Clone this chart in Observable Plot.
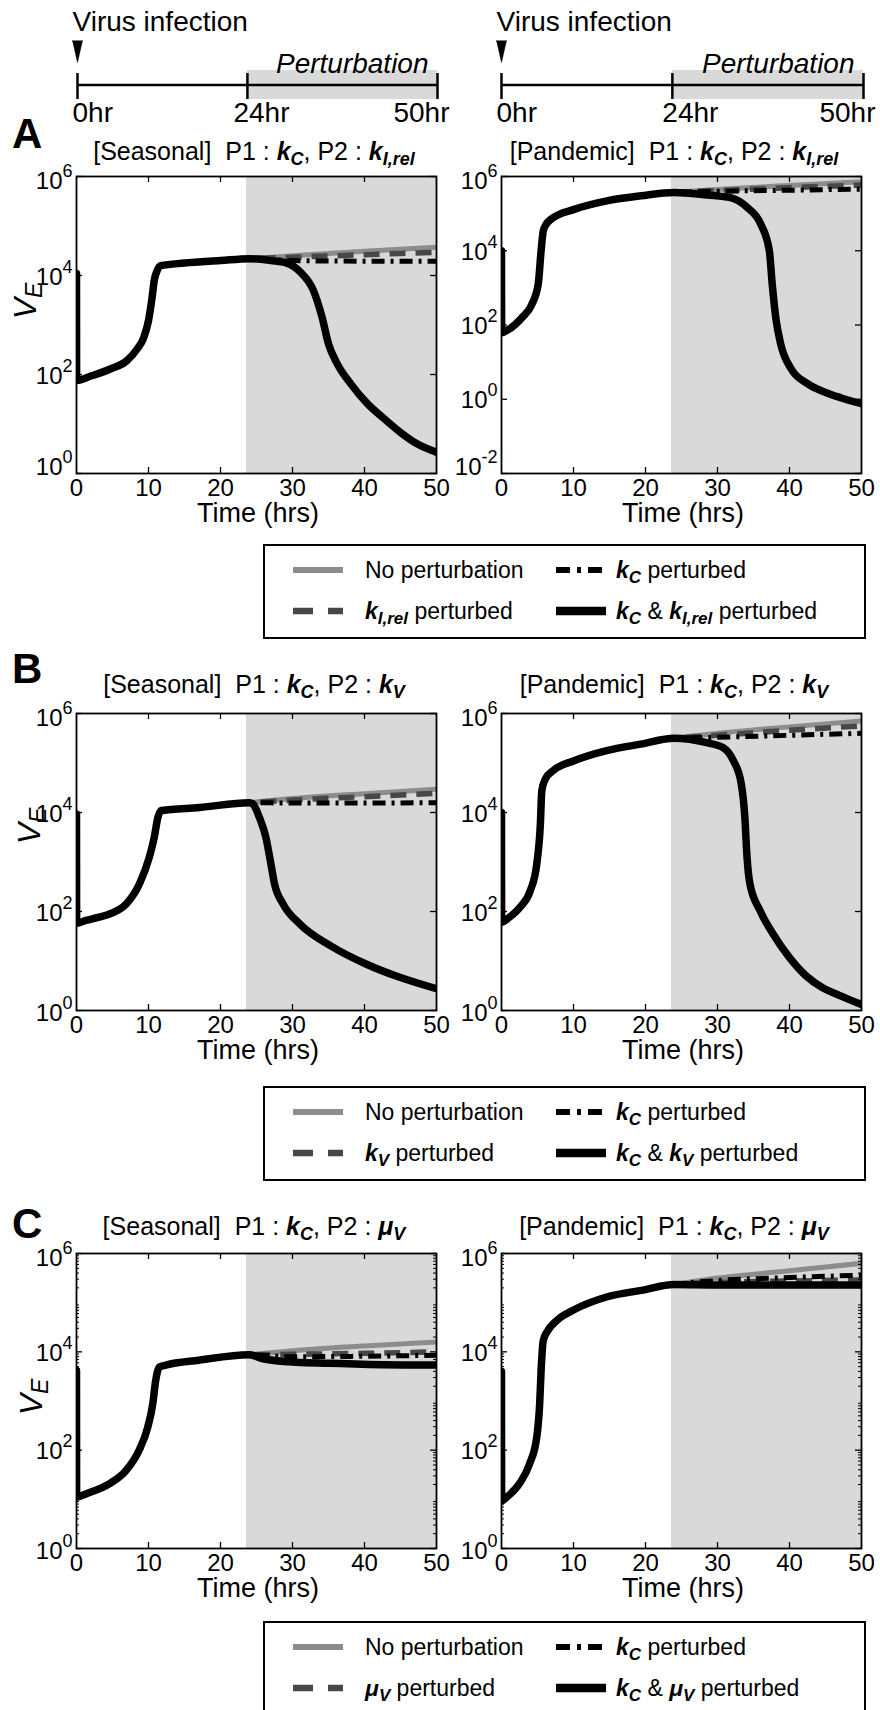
<!DOCTYPE html>
<html>
<head>
<meta charset="utf-8">
<script src="https://cdn.jsdelivr.net/npm/d3@7"></script>
<script src="https://cdn.jsdelivr.net/npm/@observablehq/plot@0.6"></script>
<style>
  html, body { margin: 0; padding: 0; background: #fff; }
  #fig { position: relative; width: 880px; height: 1710px; overflow: hidden; background: #fff;
         font-family: "Liberation Sans", Arial, Helvetica, sans-serif; }
  #overlay { position: absolute; left: 0; top: 0; pointer-events: none; }
</style>
</head>
<body>
<div id="fig"></div>
<script>
// ---------------- data ----------------
const xTicks = [0, 10, 20, 30, 40, 50];
const xLabel = "Time (hrs)";
const perturbStart = 23.6;              // start of the grey perturbation band
const timelineTicks = [0, 23.6, 50];
const timelineLabels = ["0hr", "24hr", "50hr"];
const infectionLabel = "Virus infection";
const perturbLabel = "Perturbation";
const strains = ["[Seasonal]", "[Pandemic]"];
const panelLetters = ["A", "B", "C"];
const p2Names = [{sym: "k", sub: "I,rel"}, {sym: "k", sub: "V"}, {sym: "\u03bc", sub: "V"}];
const yTicksStd = [1, 1e2, 1e4, 1e6];
const yTicksWide = [1e-2, 1, 1e2, 1e4, 1e6];
const pertT = [24, 30, 40, 50];

// A, seasonal (P2 = kI,rel)
const aSeasBaseT = [0, 0.02, 2, 4.7, 7, 8.4, 9.35, 10, 10.5, 10.8, 11.2, 11.7, 15, 20, 24];
const aSeasBaseV = [11000, 76, 93, 129, 191, 324, 562, 1230, 3630, 7940, 12600, 15800, 17800, 20000, 21900];
const aSeasNone = [21900, 25100, 30900, 37200];
const aSeasP2 = [21900, 23400, 26300, 29500];
const aSeasKC = [21900, 20000, 19500, 19500];
const aSeasBothT = [24, 27, 29.2, 31.1, 32.9, 34.1, 35, 36.2, 38.1, 40.4, 42.7, 45, 47.3, 50];
const aSeasBothV = [21900, 20000, 17800, 11700, 5010, 1450, 417, 166, 64.6, 25.7, 12.9, 6.76, 3.98, 2.69];

// A, pandemic (P2 = kI,rel)
const aPanBaseT = [0, 0.02, 0.9, 2.8, 4.2, 5.1, 5.5, 5.8, 6.2, 6.9, 10.2, 14.8, 19.4, 24];
const aPanBaseV = [10000, 62, 74, 155, 355, 1260, 10000, 33900, 51300, 70800, 132000, 224000, 302000, 372000];
const aPanNone = [372000, 447000, 575000, 724000];
const aPanP2 = [372000, 417000, 501000, 589000];
const aPanKC = [372000, 398000, 427000, 457000];
const aPanBothT = [24, 28.6, 31.8, 34.1, 36, 37.2, 37.6, 38.1, 38.8, 40.2, 42.5, 44.8, 47.1, 50];
const aPanBothV = [372000, 316000, 269000, 148000, 52500, 10000, 1260, 155, 29.5, 6.76, 2.63, 1.58, 1.1, 0.76];

// B, seasonal (P2 = kV)
const bSeasBaseT = [0, 0.02, 1.3, 3, 4.6, 6.9, 8.75, 10.1, 10.8, 11.3, 11.8, 17.1, 24];
const bSeasBaseV = [9330, 58, 66, 76, 89, 141, 363, 1230, 3160, 7940, 11000, 12600, 15800];
const bSeasNone = [15800, 19100, 24000, 29500];
const bSeasP2 = [15800, 17800, 20900, 24500];
const bSeasKC = [15800, 15500, 15500, 15800];
const bSeasBothT = [24, 24.5, 25.4, 26.3, 27, 27.5, 28.7, 31, 35.6, 40.2, 44.9, 50];
const bSeasBothV = [15800, 14800, 7940, 3160, 912, 363, 141, 56.2, 19.1, 8.71, 4.68, 2.75];

// B, pandemic (P2 = kV)
const bPanBaseT = [0, 0.02, 0.8, 2.6, 4.0, 4.9, 5.4, 5.6, 6.1, 7.2, 10, 14.6, 19.3, 24];
const bPanBaseV = [10000, 60, 71, 123, 263, 912, 5890, 27500, 47900, 70800, 110000, 178000, 240000, 316000];
const bPanNone = [316000, 398000, 537000, 708000];
const bPanP2 = [316000, 363000, 457000, 562000];
const bPanKC = [316000, 331000, 363000, 398000];
const bPanBothT = [24, 28.5, 30.8, 32.2, 33.3, 33.8, 34.1, 34.5, 35.9, 37.7, 40, 42.3, 44.6, 47, 50];
const bPanBothV = [316000, 257000, 204000, 112000, 38000, 7940, 1260, 363, 105, 35.5, 11.7, 5.01, 2.88, 2.0, 1.32];

// C, seasonal (P2 = muV)
const cSeasBaseT = [0, 0.02, 1.3, 4.6, 6.9, 8.7, 9.9, 10.6, 11, 11.5, 12.4, 17, 24];
const cSeasBaseV = [4170, 11, 12.9, 20.9, 38.9, 100, 295, 891, 2630, 4900, 5370, 6760, 8710];
const cSeasNone = [8710, 10500, 13200, 15800];
const cSeasP2 = [8710, 8910, 9330, 10000];
const cSeasKC = [8710, 7940, 8130, 8510];
const cSeasBothT = [24, 25.9, 30.5, 35.1, 39.7, 50];
const cSeasBothV = [8710, 7240, 6170, 5890, 5620, 5370];

// C, pandemic (P2 = muV)
const cPanBaseT = [0, 0.02, 0.7, 2.5, 3.9, 4.9, 5.3, 5.5, 5.8, 6.3, 7.7, 10, 14.7, 19.4, 24];
const cPanBaseV = [3980, 9.3, 11, 20.9, 52.5, 186, 871, 4170, 17000, 25100, 43700, 70800, 132000, 178000, 234000];
const cPanNone = [234000, 316000, 447000, 631000];
const cPanP2 = [234000, 257000, 275000, 288000];
const cPanKC = [234000, 282000, 324000, 363000];
const cPanBothT = [24, 30, 40, 50];
const cPanBothV = [234000, 229000, 229000, 229000];

// ---------------- layout ----------------
const FONT = '"Liberation Sans", Arial, Helvetica, sans-serif';
const NS = "http://www.w3.org/2000/svg";
const fig = document.getElementById("fig");

const rows = [
  {top: 176, bottom: 473, title: 160, letter: 148, ve: [36, 301], bottomOff: 1, legend: 545},
  {top: 713, bottom: 1010, title: 693, letter: 683, ve: [40, 826], bottomOff: 10, legend: 1087},
  {top: 1253, bottom: 1548, title: 1235, letter: 1238, ve: [42, 1397], bottomOff: 10, legend: 1622}
];
const cols = [
  {x0: 0, ml: 76, mr: 4, titleX: 254, tl: 77, tr: 3, tick24dx: -14},
  {x0: 440, ml: 61, mr: 19, titleX: 674, tl: 61, tr: 17, tick24dx: -10}
];

const lineStyles = {
  none: {stroke: "#8c8c8c", strokeWidth: 5},
  p2: {stroke: "#474747", strokeWidth: 5.5, strokeDasharray: "16,10", strokeLinecap: "butt"},
  kc: {stroke: "#000", strokeWidth: 5, strokeDasharray: "13,6,3,6", strokeLinecap: "butt"},
  both: {stroke: "#000", strokeWidth: 7.5}
};

function buildSeries(baseT, baseV, t, v) {
  const out = baseT.map((x, i) => ({t: x, v: baseV[i]}));
  const last = baseT[baseT.length - 1];
  t.forEach((x, i) => { if (x > last) out.push({t: x, v: v[i]}); });
  return out;
}

const panels = [
  {row: 0, col: 0, yDomain: [1, 1e6], yTicks: yTicksStd, bT: aSeasBaseT, bV: aSeasBaseV, none: aSeasNone, p2: aSeasP2, kc: aSeasKC, bothT: aSeasBothT, bothV: aSeasBothV},
  {row: 0, col: 1, yDomain: [1e-2, 1e6], yTicks: yTicksWide, bT: aPanBaseT, bV: aPanBaseV, none: aPanNone, p2: aPanP2, kc: aPanKC, bothT: aPanBothT, bothV: aPanBothV},
  {row: 1, col: 0, yDomain: [1, 1e6], yTicks: yTicksStd, bT: bSeasBaseT, bV: bSeasBaseV, none: bSeasNone, p2: bSeasP2, kc: bSeasKC, bothT: bSeasBothT, bothV: bSeasBothV},
  {row: 1, col: 1, yDomain: [1, 1e6], yTicks: yTicksStd, bT: bPanBaseT, bV: bPanBaseV, none: bPanNone, p2: bPanP2, kc: bPanKC, bothT: bPanBothT, bothV: bPanBothV},
  {row: 2, col: 0, yDomain: [1, 1e6], yTicks: yTicksStd, bT: cSeasBaseT, bV: cSeasBaseV, none: cSeasNone, p2: cSeasP2, kc: cSeasKC, bothT: cSeasBothT, bothV: cSeasBothV, minor: true},
  {row: 2, col: 1, yDomain: [1, 1e6], yTicks: yTicksStd, bT: cPanBaseT, bV: cPanBaseV, none: cPanNone, p2: cPanP2, kc: cPanKC, bothT: cPanBothT, bothV: cPanBothV, minor: true}
];

function fixTickLabels(svg, bottomOff) {
  svg.querySelectorAll('g[aria-label$="tick label"]').forEach(g => {
    g.setAttribute("font-size", "24");
    g.style.fontSize = "24px";
  });
  const texts = [...svg.querySelectorAll('g[aria-label="y-axis tick label"] text')];
  const exps = texts.map(el => +el.textContent);
  const lo = Math.min(...exps), hi = Math.max(...exps);
  texts.forEach((el, i) => {
    const e = exps[i];
    el.textContent = "";
    el.removeAttribute("dy");
    el.setAttribute("y", e === lo ? bottomOff : (e === hi ? 12 : 9));
    const a = document.createElementNS(NS, "tspan");
    a.textContent = "10";
    const b = document.createElementNS(NS, "tspan");
    b.textContent = String(e);
    b.setAttribute("dy", "-12");
    b.setAttribute("font-size", "18");
    el.append(a, b);
  });
}

function drawPanel(p) {
  const R = rows[p.row], C = cols[p.col];
  const mt = 24, mb = 60;
  const frameH = R.bottom - R.top;
  const frameW = 440 - C.ml - C.mr;
  const xMax = xTicks[xTicks.length - 1];
  const sNone = buildSeries(p.bT, p.bV, pertT, p.none);
  const sP2 = buildSeries(p.bT, p.bV, pertT, p.p2);
  const sKC = buildSeries(p.bT, p.bV, pertT, p.kc);
  const sBoth = buildSeries(p.bT, p.bV, p.bothT, p.bothV);
  const common = {x: "t", y: "v", curve: "monotone-x", clip: true};
  const inner = xTicks.slice(1, -1);
  const marks = [
    Plot.rect([perturbStart], {x1: d => d, x2: () => xMax, fill: "#d9d9d9"}),
    Plot.line(sNone, {...common, ...lineStyles.none}),
    Plot.line(sP2, {...common, ...lineStyles.p2}),
    Plot.line(sKC, {...common, ...lineStyles.kc}),
    Plot.line(sBoth, {...common, ...lineStyles.both}),
    Plot.frame({stroke: "black", strokeWidth: 1.8}),
    Plot.ruleX(inner, {x: d => d, insetTop: frameH - 6, stroke: "black", strokeWidth: 1.3}),
    Plot.ruleX(inner, {x: d => d, insetBottom: frameH - 6, stroke: "black", strokeWidth: 1.3}),
    Plot.ruleY(p.yTicks, {y: d => d, insetLeft: frameW - 6, stroke: "black", strokeWidth: 1.3}),
    Plot.ruleY(p.yTicks, {y: d => d, insetRight: frameW - 6, stroke: "black", strokeWidth: 1.3})
  ];
  if (p.minor) {
    const minor = [];
    const [lo, hi] = p.yDomain.map(Math.log10);
    for (let k = lo; k < hi; k++) for (let m = 2; m < 10; m++) minor.push(m * Math.pow(10, k));
    marks.push(Plot.ruleY(minor, {y: d => d, insetLeft: frameW - 3, stroke: "black", strokeWidth: 1}));
    marks.push(Plot.ruleY(minor, {y: d => d, insetRight: frameW - 3, stroke: "black", strokeWidth: 1}));
  }
  const svg = Plot.plot({
    width: 440, height: mt + frameH + mb,
    marginTop: mt, marginBottom: mb, marginLeft: C.ml, marginRight: C.mr,
    x: {domain: [0, xMax], ticks: xTicks, tickSize: 0, tickPadding: 5, label: null},
    y: {type: "log", domain: p.yDomain, ticks: p.yTicks, tickSize: 0, tickPadding: 4, label: null,
        tickFormat: d => String(Math.round(Math.log10(d)))},
    style: {fontFamily: FONT, fontSize: "24px", background: "transparent", overflow: "visible", color: "black"},
    marks
  });
  fixTickLabels(svg, R.bottomOff);
  svg.style.position = "absolute";
  svg.style.left = C.x0 + "px";
  svg.style.top = (R.top - mt) + "px";
  fig.appendChild(svg);
}

function drawTimeline(C) {
  const xMax = xTicks[xTicks.length - 1];
  const lab = (i, anchor, dx) => Plot.text([timelineLabels[i]], {
    x: () => timelineTicks[i], text: d => d, frameAnchor: "bottom", dy: 14, dx, textAnchor: anchor, fontSize: 28, lineAnchor: "middle"});
  const svg = Plot.plot({
    width: 440, height: 130, marginTop: 70, marginBottom: 31, marginLeft: C.tl, marginRight: C.tr,
    x: {domain: [0, xMax], axis: null}, y: {domain: [0, 1], axis: null},
    style: {fontFamily: FONT, fontSize: "28px", background: "transparent", overflow: "visible", color: "black"},
    marks: [
      Plot.rect([perturbStart], {x1: d => d, x2: () => xMax, fill: "#d9d9d9"}),
      Plot.ruleY([0.5], {y: d => d, stroke: "black", strokeWidth: 2.5}),
      Plot.ruleX(timelineTicks, {x: d => d, stroke: "black", strokeWidth: 2.5, insetTop: 3}),
      Plot.vector([0], {x: d => d, frameAnchor: "top", dy: -30, shape: "spike", length: 22, r: 5,
                        rotate: 180, anchor: "start", fill: "black", stroke: "black", strokeWidth: 0.5}),
      Plot.text([infectionLabel], {x: () => 0, text: d => d, frameAnchor: "top", dy: -48, dx: -5, textAnchor: "start", fontSize: 28, lineAnchor: "middle"}),
      Plot.text([perturbLabel], {x: () => xMax, text: d => d, frameAnchor: "top", dy: -6, dx: -9, textAnchor: "end", fontStyle: "italic", fontSize: 28, lineAnchor: "middle"}),
      lab(0, "start", -5),
      lab(1, "start", C.tick24dx),
      lab(2, "end", 12)
    ]
  });
  svg.style.position = "absolute";
  svg.style.left = C.x0 + "px";
  svg.style.top = "0px";
  fig.appendChild(svg);
}

cols.forEach(drawTimeline);
panels.forEach(drawPanel);

// ---------------- overlay: letters, titles, axis labels, legends ----------------
const ov = d3.select(fig).append("svg").attr("id", "overlay")
  .attr("width", 880).attr("height", 1710)
  .attr("font-family", FONT).attr("fill", "black");

function rich(textSel, parts, subSize, shift) {
  let down = false;
  parts.forEach(p => {
    const ts = textSel.append("tspan").text(p.t);
    if (p.b) ts.attr("font-weight", "bold");
    if (p.i) ts.attr("font-style", "italic");
    if (p.sub) {
      ts.attr("font-size", subSize);
      if (!down) { ts.attr("dy", shift); down = true; }
    } else if (down) { ts.attr("dy", -shift); down = false; }
  });
}
const kC = [{t: "k", b: 1, i: 1}, {t: "C", b: 1, i: 1, sub: 1}];
const p2Parts = r => [{t: p2Names[r].sym, b: 1, i: 1}, {t: p2Names[r].sub, b: 1, i: 1, sub: 1}];

rows.forEach((R, r) => {
  ov.append("text").attr("x", 12).attr("y", R.letter).attr("font-size", 42)
    .attr("font-weight", "bold").text(panelLetters[r]);
  cols.forEach((C, c) => {
    const t = ov.append("text").attr("x", C.titleX).attr("y", R.title)
      .attr("text-anchor", "middle").attr("font-size", 25);
    rich(t, [{t: strains[c] + "\u00a0 P1 : "}, ...kC, {t: ", P2 : "}, ...p2Parts(r)], 18, 5);
    // x-axis title
    const fx = C.x0 + C.ml + (440 - C.ml - C.mr) / 2;
    ov.append("text").attr("x", fx + 2).attr("y", R.bottom + 49).attr("text-anchor", "middle")
      .attr("font-size", 27).text(xLabel);
  });
  const ve = ov.append("text").attr("transform", `translate(${R.ve[0]},${R.ve[1]}) rotate(-90)`)
    .attr("text-anchor", "middle");
  ve.append("tspan").attr("font-style", "italic").attr("font-size", 32).text("V");
  ve.append("tspan").attr("font-style", "italic").attr("font-size", 23).attr("dy", 6).text("E");

  // legend
  const top = R.legend;
  const g = ov.append("g");
  g.append("rect").attr("x", 264).attr("y", top).attr("width", 601).attr("height", 93)
    .attr("fill", "none").attr("stroke", "black").attr("stroke-width", 2);
  const entries = [
    {st: lineStyles.none, x: 293, y: top + 25, tx: 365, parts: [{t: "No perturbation"}]},
    {st: lineStyles.kc, x: 556, y: top + 25, tx: 616, parts: [...kC, {t: " perturbed"}]},
    {st: lineStyles.p2, x: 293, y: top + 66, tx: 365, parts: [...p2Parts(r), {t: " perturbed"}]},
    {st: lineStyles.both, x: 556, y: top + 66, tx: 616, parts: [...kC, {t: " & "}, ...p2Parts(r), {t: " perturbed"}]}
  ];
  entries.forEach(e => {
    const l = g.append("line").attr("x1", e.x).attr("x2", e.x + 50).attr("y1", e.y).attr("y2", e.y)
      .attr("stroke", e.st.stroke).attr("stroke-width", e.st.strokeWidth + 1);
    if (e.st.strokeDasharray) l.attr("stroke-dasharray", e.st === lineStyles.p2 ? "20,15" : "14,7,4,7");
    const t = g.append("text").attr("x", e.tx).attr("y", e.y + 8).attr("font-size", 23);
    rich(t, e.parts, 17, 5);
  });
});
</script>
</body>
</html>
